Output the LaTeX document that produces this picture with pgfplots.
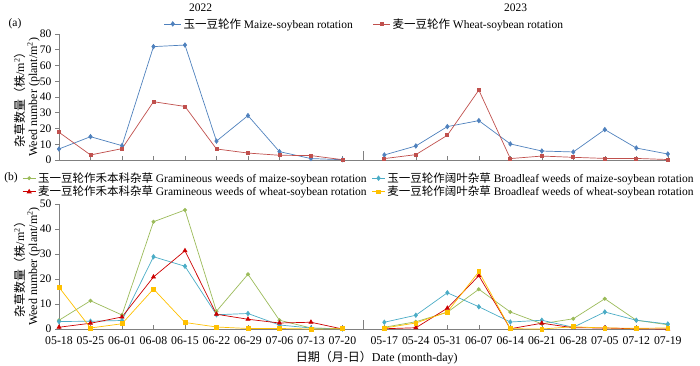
\documentclass[border=0pt]{standalone}
\usepackage{pgfplots}
\usepackage{pgfplotstable}
\pgfplotsset{compat=1.18}
\usepackage{fontspec}
\setmainfont{Liberation Serif}
\newfontfamily\cjk{Noto Sans CJK SC}
\definecolor{cblue}{RGB}{79,129,189}
\definecolor{cred}{RGB}{192,80,77}
\definecolor{cgreen}{RGB}{155,187,89}
\definecolor{ccyan}{RGB}{75,172,198}
\definecolor{cdred}{RGB}{204,0,0}
\definecolor{cyel}{RGB}{255,192,0}
\definecolor{axgray}{RGB}{128,128,128}

\pgfplotstableread{
x ms ws
0 7.0 17.6
1 14.8 3.2
2 9.1 7.2
3 72.0 37.0
4 73.0 34.0
5 12.0 7.0
6 28.2 4.4
7 5.3 3.0
8 0.9 2.8
9 0.2 0.2
9.65 nan nan
10.33 3.2 0.9
11.33 8.9 3.4
12.33 21.2 15.7
13.33 25.0 44.4
14.33 10.2 0.9
15.33 5.7 2.5
16.33 5.1 1.7
17.33 19.3 1.0
18.33 7.6 1.0
19.33 3.8 0.3
}\toptable

\pgfplotstableread{
x gm bm gw bw
0 3.5 3.0 0.7 16.7
1 11.3 3.1 2.3 0.4
2 5.6 3.4 4.8 2.1
3 42.9 28.9 20.8 16.0
4 47.6 25.1 31.3 2.6
5 7.1 5.7 5.9 0.8
6 21.9 6.2 3.9 0.2
7 3.5 1.6 2.4 0.2
8 0.4 0.4 2.7 0.0
9 0.1 0.0 0.0 0.1
9.65 nan nan nan nan
10.33 0.7 2.7 0.1 0.4
11.33 2.9 5.5 0.5 2.4
12.33 6.7 14.5 8.3 6.8
13.33 15.9 8.9 21.3 22.9
14.33 6.8 2.8 0.1 0.1
15.33 2.1 3.5 2.3 0.0
16.33 4.1 0.7 0.5 0.9
17.33 12.1 6.8 0.4 0.4
18.33 3.5 3.5 0.1 0.3
19.33 1.7 2.0 0.0 0.4
}\bottable

\pgfplotsset{
  myaxis/.style={
    scale only axis,
    width=611pt,
    xmin=0, xmax=19.4,
    ymin=0,
    enlargelimits=false,
    clip=false,
    unbounded coords=jump,
    axis lines*=left,
    axis line style={axgray, line width=0.6pt, -},
    every tick/.style={axgray, line width=0.6pt},
    xtick={0,1,2,3,4,5,6,7,8,9,10.33,11.33,12.33,13.33,14.33,15.33,16.33,17.33,18.33,19.33},
    xtick align=inside,
    ytick align=outside,
    major tick length=4pt,
    extra x ticks={9.65},
    extra x tick labels={},
    extra x tick style={major tick length=9pt, xtick align=inside},
    /pgf/number format/assume math mode=true,
    tick label style={font=\fontsize{11.5}{13}\selectfont, black},
    ylabel style={align=center, at={(axis description cs:-0.026,0.5)}, anchor=south, font=\fontsize{12}{13}\selectfont},
    every axis plot/.append style={line width=0.7pt},
    legend style={draw=none, fill=none, font=\fontsize{11.5}{13}\selectfont,
      nodes={inner ysep=1.2pt, inner xsep=2pt}},
  },
}

\begin{document}
\begin{tikzpicture}
\path[use as bounding box] (0pt,0pt) rectangle (700pt,366pt);

\begin{axis}[myaxis,
  at={(59pt,206pt)}, anchor=south west,
  height=126pt, ymax=80,
  ytick={0,10,...,80},
  xticklabels={},
  ylabel={{\cjk 杂草数量（株}/m\textsuperscript{2}{\cjk ）}\\Weed number (plant/m\textsuperscript{2})},
  legend columns=2,
  legend style={at={(axis description cs:0.5,1.08)}, anchor=center,
    /tikz/every even column/.append style={column sep=18pt}},
  legend image code/.code={\draw[mark repeat=2,mark phase=2] plot coordinates {(0pt,0pt) (8.5pt,0pt) (17pt,0pt)};},
]
\addplot[cblue, mark=diamond*, mark size=2.2pt] table[x=x, y=ms] {\toptable};
\addlegendentry{{\cjk 玉一豆轮作} Maize-soybean rotation}
\addplot[cred, mark=square*, mark size=1.5pt] table[x=x, y=ws] {\toptable};
\addlegendentry{{\cjk 麦一豆轮作} Wheat-soybean rotation}
\node[font=\fontsize{11.5}{13}\selectfont] at (axis cs:4.5,80) [yshift=26pt] {2022};
\node[font=\fontsize{11.5}{13}\selectfont] at (axis cs:14.5,80) [yshift=26pt] {2023};
\end{axis}

\begin{axis}[myaxis,
  at={(59pt,37pt)}, anchor=south west,
  height=125pt, ymax=50,
  ytick={0,10,...,50},
  xticklabels={05-18,05-25,06-01,06-08,06-15,06-22,06-29,07-06,07-13,07-20,05-17,05-24,05-31,06-07,06-14,06-21,06-28,07-05,07-12,07-19},
  x tick label style={font=\fontsize{11.8}{13}\selectfont, yshift=-4pt},
  ylabel={{\cjk 杂草数量（株}/m\textsuperscript{2}{\cjk ）}\\Weed number (plant/m\textsuperscript{2})},
  xlabel={{\cjk 日期（月-日）}Date (month-day)},
  xlabel style={at={(axis description cs:0.52,-0.23)}, anchor=center, font=\fontsize{12}{13}\selectfont},
  legend columns=2,
  legend style={at={(axis description cs:0.491,1.152)}, anchor=center,
    /tikz/every even column/.append style={column sep=3pt}},
  legend image code/.code={\draw[mark repeat=2,mark phase=2] plot coordinates {(0pt,0pt) (6.5pt,0pt) (13pt,0pt)};},
]
\addplot[cgreen, mark=*, mark size=1.6pt] table[x=x, y=gm] {\bottable};
\addlegendentry{{\cjk 玉一豆轮作禾本科杂草} Gramineous weeds of maize-soybean rotation}
\addplot[ccyan, mark=diamond*, mark size=2.2pt] table[x=x, y=bm] {\bottable};
\addlegendentry{{\cjk 玉一豆轮作阔叶杂草} Broadleaf weeds of maize-soybean rotation}
\addplot[cdred, mark=triangle*, mark size=2.3pt] table[x=x, y=gw] {\bottable};
\addlegendentry{{\cjk 麦一豆轮作禾本科杂草} Gramineous weeds of wheat-soybean rotation}
\addplot[cyel, mark=square*, mark size=1.9pt] table[x=x, y=bw] {\bottable};
\addlegendentry{{\cjk 麦一豆轮作阔叶杂草} Broadleaf weeds of wheat-soybean rotation}
\end{axis}

\node[font=\fontsize{11.5}{13}\selectfont] at (15pt,342pt) {(a)};
\node[font=\fontsize{11.5}{13}\selectfont] at (11pt,188pt) {(b)};
\end{tikzpicture}
\end{document}
